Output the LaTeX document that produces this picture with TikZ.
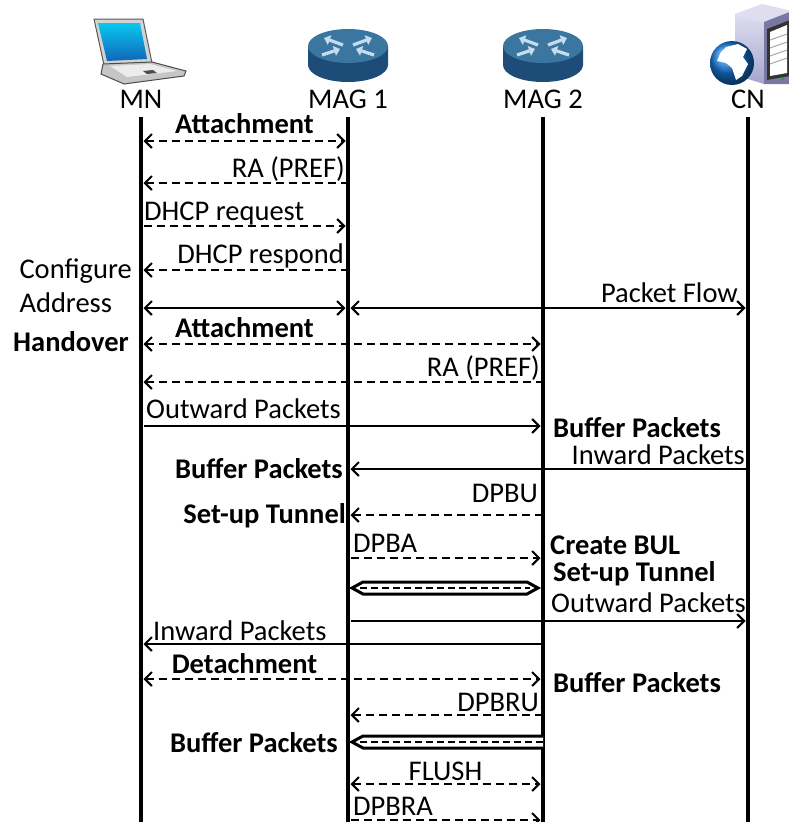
\documentclass[tikz,border=0pt]{standalone}
\usepackage{fontspec}
\setmainfont{Carlito}
\usetikzlibrary{calc,arrows.meta}

\definecolor{routertop}{RGB}{58,118,160}
\definecolor{routerside}{RGB}{30,76,120}
\definecolor{routerarrow}{RGB}{196,220,238}
\definecolor{screenblue}{RGB}{20,120,215}
\definecolor{srvlight}{RGB}{222,222,240}
\definecolor{srvside}{RGB}{165,165,205}
\definecolor{srvfront}{RGB}{120,120,160}

\tikzset{
  routericon/.pic={
    \fill[routerside] (-40,0) -- (-40,19) arc[start angle=180,end angle=0,x radius=40,y radius=17] -- (40,0) -- cycle;
    \fill[routertop] (0,0) ellipse [x radius=40,y radius=17];
    \begin{scope}[routerarrow,line width=3.2pt,-{Triangle[length=6pt,width=10pt]}]
      \draw (-5,-1) -- (-24,-8);
      \draw (5,-1) -- (24,-8);
      \draw (-26,9) -- (-8,3);
      \draw (26,9) -- (8,3);
    \end{scope}
  }
}

\begin{document}
\begin{tikzpicture}[x=1pt,y=-1pt,
    every node/.style={inner sep=0pt,font=\fontsize{28.5}{34}\selectfont},
    bold/.style={font=\fontsize{28.5}{34}\selectfont\bfseries},
    life/.style={line width=4.5pt},
    msg/.style={line width=2pt,shorten >=2.5pt,shorten <=2.5pt},
    dmsg/.style={msg,dash pattern=on 8pt off 5pt},
    tunnel/.style={line width=3pt,fill=white,line join=miter},
    tunnelcore/.style={line width=2pt,dash pattern=on 7pt off 4pt},
    >={Straight Barb[length=7pt,width=14pt]}]
  \useasboundingbox (0,0) rectangle (788,822);

  % Icons
  % laptop
  \filldraw[fill=gray!35,draw=gray!70!black,line width=1pt]
    (94,19) -- (143,19) -- (152,63) -- (104,65) -- cycle;
  \shade[top color=cyan!60!screenblue,bottom color=screenblue!85!black]
    (98,23) -- (140,23) -- (147,59) -- (107,61) -- cycle;
  \filldraw[fill=gray!45,draw=gray!60!black,line width=1pt]
    (103,64) -- (152,62) -- (186,71) -- (184,76) -- (124,84) -- (101,74) -- cycle;
  \fill[gray!15] (110,66) -- (150,64) -- (177,71) -- (127,77) -- cycle;
  \fill[gray!60!black] (143,71) -- (153,70) -- (157,73) -- (147,74) -- cycle;
  % routers
  \pic at (348,46) {routericon};
  \pic at (543,46) {routericon};
  % server with globe
  \fill[srvlight] (735,14) -- (762,4) -- (792,11) -- (764,22) -- cycle;
  \shade[top color=srvlight,bottom color=srvside] (735,14) -- (764,22) -- (764,84) -- (735,75) -- cycle;
  \fill[srvfront] (764,22) -- (792,11) -- (792,84) -- (764,84) -- cycle;
  \fill[black!80] (767,29) -- (790,20) -- (790,76) -- (767,80) -- cycle;
  \fill[white] (770,32) -- (787,25) -- (787,73) -- (770,76) -- cycle;
  \foreach \s in {40,48,56,64}
    \draw[gray!70,line width=1pt] (770,\s) -- (787,\s-6);
  \fill[green!70!black] (783,79) circle (1.2);
  \shade[ball color=screenblue] (732,63) circle (22);
  \fill[white] (726,47) -- (738,44) -- (747,49) -- (743,57) -- (748,64)
    -- (742,76) -- (736,80) -- (732,68) -- (726,63) -- (717,61) -- (721,52) -- cycle;

  % Entities
  \node[anchor=base] (mn) at (141,108) {MN};
  \node[anchor=base] (mag1) at (348,108) {MAG 1};
  \node[anchor=base] (mag2) at (543,108) {MAG 2};
  \node[anchor=base] (cn) at (748,108) {CN};

  \coordinate (top) at (0,117);
  \coordinate (bot) at (0,822);
  \foreach \r/\y in {1/141,2/183,3/226,4/270,5/308,6/344,7/382,8/426,9/469,10/515,
                     11/558,12/588,13/621,14/644,15/679,16/715,17/742,18/784,19/820}
    \coordinate (r\r) at (0,\y);

  % Lifelines
  \foreach \e in {mn,mag1,mag2,cn}
    \draw[life] (\e |- top) -- (\e |- bot);

  % Initial attachment
  \draw[dmsg,<->] (mn |- r1) -- (mag1 |- r1);
  \node[bold,anchor=base] at ($(mn |- r1)!0.5!(mag1 |- r1)+(0,-8)$) {Attachment};
  \draw[dmsg,<-] (mn |- r2) -- (mag1 |- r2);
  \node[anchor=base east] at ($(mag1 |- r2)+(-3,-6)$) {RA (PREF)};
  \draw[dmsg,->] (mn |- r3) -- (mag1 |- r3);
  \node[anchor=base west] at ($(mn |- r3)+(3,-6)$) {DHCP request};
  \draw[dmsg,<-] (mn |- r4) -- (mag1 |- r4);
  \node[anchor=base east] at ($(mag1 |- r4)+(-4,-7)$) {DHCP respond};
  \node[anchor=base east] (conf) at ($(mn |- r4)+(-9,8)$) {Configure};
  \node[anchor=base west] (addr) at ($(conf.base west)+(0,34)$) {Address};
  \draw[msg,<->] (mn |- r5) -- (mag1 |- r5);
  \draw[msg,<->] (mag1 |- r5) -- (cn |- r5);
  \node[anchor=base east] at ($(cn |- r5)+(-10,-6)$) {Packet Flow};

  % Handover to MAG 2
  \draw[dmsg,<->] (mn |- r6) -- (mag2 |- r6);
  \node[bold,anchor=base] at ($(mn |- r6)!0.5!(mag1 |- r6)+(0,-7)$) {Attachment};
  \node[bold,anchor=base east] at ($(mn |- r6)+(-12,7)$) {Handover};
  \draw[dmsg,<-] (mn |- r7) -- (mag2 |- r7);
  \node[anchor=base east] at ($(mag2 |- r7)+(-3,-6)$) {RA (PREF)};
  \draw[msg,->] (mn |- r8) -- (mag2 |- r8);
  \node[anchor=base west] at ($(mn |- r8)+(5,-8)$) {Outward Packets};
  \node[bold,anchor=base west] at ($(mag2 |- r8)+(10,11)$) {Buffer Packets};
  \draw[msg,<-] (mag1 |- r9) -- (cn |- r9);
  \node[anchor=base east] at ($(cn |- r9)+(-3,-5)$) {Inward Packets};
  \node[bold,anchor=base east] at ($(mag1 |- r9)+(-5,9)$) {Buffer Packets};

  % Tunnel set-up
  \draw[dmsg,<-] (mag1 |- r10) -- (mag2 |- r10);
  \node[anchor=base east] at ($(mag2 |- r10)+(-5,-13)$) {DPBU};
  \node[bold,anchor=base east] at ($(mag1 |- r10)+(-2,8)$) {Set-up Tunnel};
  \draw[dmsg,->] (mag1 |- r11) -- (mag2 |- r11);
  \node[anchor=base west] at ($(mag1 |- r11)+(5,-6)$) {DPBA};
  \node[bold,anchor=base west] at ($(mag2 |- r11)+(7,-4)$) {Create BUL};
  \node[bold,anchor=base west] at ($(mag2 |- r11)+(10,23)$) {Set-up Tunnel};
  \draw[tunnel] ($(mag1 |- r12)+(4,0)$) -- ++(11,-6) -- ($(mag2 |- r12)+(-16,-6)$)
    -- ++(11,6) -- ++(-11,6) -- ($(mag1 |- r12)+(15,6)$) -- cycle;
  \draw[tunnelcore] ($(mag1 |- r12)+(12,0)$) -- ($(mag2 |- r12)+(-13,0)$);
  \draw[msg,->] (mag1 |- r13) -- (cn |- r13);
  \node[anchor=base west] at ($(mag2 |- r13)+(8,-9)$) {Outward Packets};
  \draw[msg,<-] (mn |- r14) -- (mag2 |- r14);
  \node[anchor=base west] at ($(mn |- r14)+(12,-4)$) {Inward Packets};

  % Detachment and flush
  \draw[dmsg,<->] (mn |- r15) -- (mag2 |- r15);
  \node[bold,anchor=base] at ($(mn |- r15)!0.5!(mag1 |- r15)+(0,-6)$) {Detachment};
  \node[bold,anchor=base west] at ($(mag2 |- r15)+(10,13)$) {Buffer Packets};
  \draw[dmsg,<-] (mag1 |- r16) -- (mag2 |- r16);
  \node[anchor=base east] at ($(mag2 |- r16)+(-4,-4)$) {DPBRU};
  \draw[tunnel] ($(mag2 |- r17)+(0,-6)$) -- ($(mag1 |- r17)+(15,-6)$) -- ++(-11,6)
    -- ++(11,6) -- ($(mag2 |- r17)+(0,6)$);
  \draw[tunnelcore] ($(mag1 |- r17)+(12,0)$) -- (mag2 |- r17);
  \node[bold,anchor=base east] at ($(mag1 |- r17)+(-10,10)$) {Buffer Packets};
  \draw[dmsg,<->] (mag1 |- r18) -- (mag2 |- r18);
  \node[anchor=base] at ($(mag1 |- r18)!0.5!(mag2 |- r18)+(0,-4)$) {FLUSH};
  \draw[dmsg,->] (mag1 |- r19) -- (mag2 |- r19);
  \node[anchor=base west] at ($(mag1 |- r19)+(5,-5)$) {DPBRA};
\end{tikzpicture}
\end{document}
